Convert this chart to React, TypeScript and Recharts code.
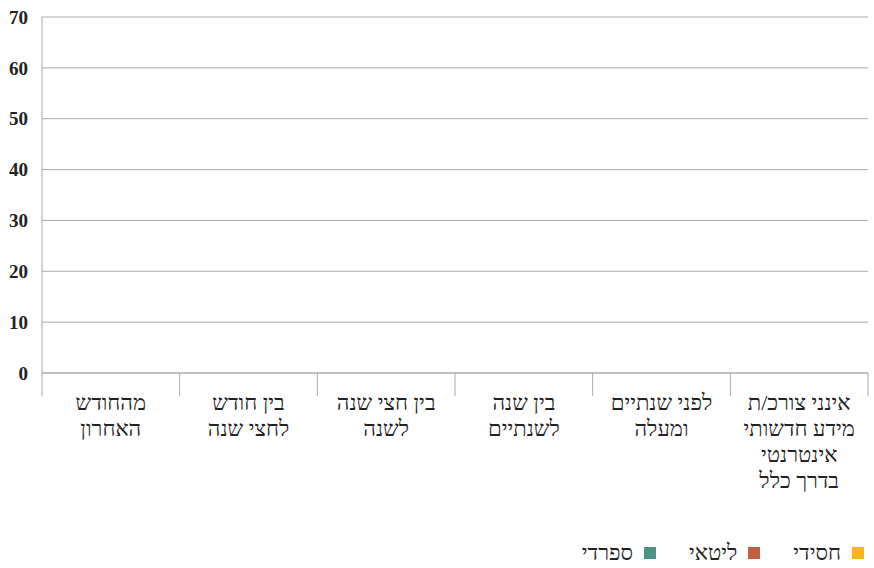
import React from "react"
import { Bar, BarChart, CartesianGrid, XAxis, YAxis } from "recharts"

const categories = [
  "מהחודש האחרון",
  "בין חודש לחצי שנה",
  "בין חצי שנה לשנה",
  "בין שנה לשנתיים",
  "לפני שנתיים ומעלה",
  "אינני צורכ/ת מידע חדשותי אינטרנטי בדרך כלל",
]

// how each category label wraps in the picture
const categoryLines = [
  ["מהחודש", "האחרון"],
  ["בין חודש", "לחצי שנה"],
  ["בין חצי שנה", "לשנה"],
  ["בין שנה", "לשנתיים"],
  ["לפני שנתיים", "ומעלה"],
  ["אינני צורכ/ת", "מידע חדשותי", "אינטרנטי", "בדרך כלל"],
]

// the reference shows no bars at all
const hasidi = [0, 0, 0, 0, 0, 0]
const litai = [0, 0, 0, 0, 0, 0]
const sfaradi = [0, 0, 0, 0, 0, 0]

const yTicks = [0, 10, 20, 30, 40, 50, 60, 70]

const seriesNames = ["חסידי", "ליטאי", "ספרדי"]
const seriesColors = ["#FDB515", "#C0603E", "#4E9485"]

const data = categories.map((name, i) => ({
  name,
  hasidi: hasidi[i],
  litai: litai[i],
  sfaradi: sfaradi[i],
}))

const W = 874
const H = 568
const LEFT = 42
const RIGHT = 6
const TOP = 17
const X_AXIS_H = 195
const FONT = '"Liberation Serif", "Times New Roman", serif'
const GRID = "#ABABAB"
const TEXT = "#222222"

const band = (W - LEFT - RIGHT) / categories.length

function CategoryTick(props: any) {
  const { x, y, index } = props
  const lines = categoryLines[index] || []
  return (
    <g>
      <line x1={x - band / 2} y1={y} x2={x - band / 2} y2={y + 23} stroke={GRID} strokeWidth={1} />
      {index === categories.length - 1 && (
        <line x1={x + band / 2} y1={y} x2={x + band / 2} y2={y + 23} stroke={GRID} strokeWidth={1} />
      )}
      <text x={x} y={y + 37} textAnchor="middle" fill={TEXT} fontFamily={FONT} fontSize={22}>
        {lines.map((l, i) => (
          <tspan key={i} x={x} dy={i === 0 ? 0 : 26}>
            {l}
          </tspan>
        ))}
      </text>
    </g>
  )
}

export default function App() {
  return (
    <div style={{ position: "absolute", left: 0, top: 0, width: W, height: H, background: "#fff" }}>
      <BarChart
        width={W}
        height={H}
        data={data}
        margin={{ top: TOP, right: RIGHT, bottom: 0, left: 0 }}
        barGap={0}
      >
        <CartesianGrid vertical={false} stroke={GRID} strokeWidth={1} />
        <XAxis
          dataKey="name"
          height={X_AXIS_H}
          axisLine={{ stroke: GRID }}
          tickLine={false}
          tickSize={0}
          tickMargin={0}
          interval={0}
          tick={<CategoryTick />}
        />
        <YAxis
          width={LEFT}
          domain={[0, 70]}
          ticks={yTicks}
          axisLine={{ stroke: GRID }}
          tickLine={false}
          tickSize={0}
          tickMargin={14}
          tick={{ fill: TEXT, fontFamily: FONT, fontSize: 19, fontWeight: 700 }}
        />
        <Bar dataKey="hasidi" name={seriesNames[0]} fill={seriesColors[0]} isAnimationActive={false} />
        <Bar dataKey="litai" name={seriesNames[1]} fill={seriesColors[1]} isAnimationActive={false} />
        <Bar dataKey="sfaradi" name={seriesNames[2]} fill={seriesColors[2]} isAnimationActive={false} />
      </BarChart>
      <div
        style={{
          position: "absolute",
          right: 10,
          top: 540,
          display: "flex",
          direction: "rtl",
          gap: 33,
          fontFamily: FONT,
          fontSize: 22,
          color: TEXT,
        }}
      >
        {seriesNames.map((n, i) => (
          <div key={n} style={{ display: "flex", alignItems: "center", gap: 11 }}>
            <span style={{ width: 12, height: 12, background: seriesColors[i], display: "inline-block" }} />
            <span>{n}</span>
          </div>
        ))}
      </div>
    </div>
  )
}
